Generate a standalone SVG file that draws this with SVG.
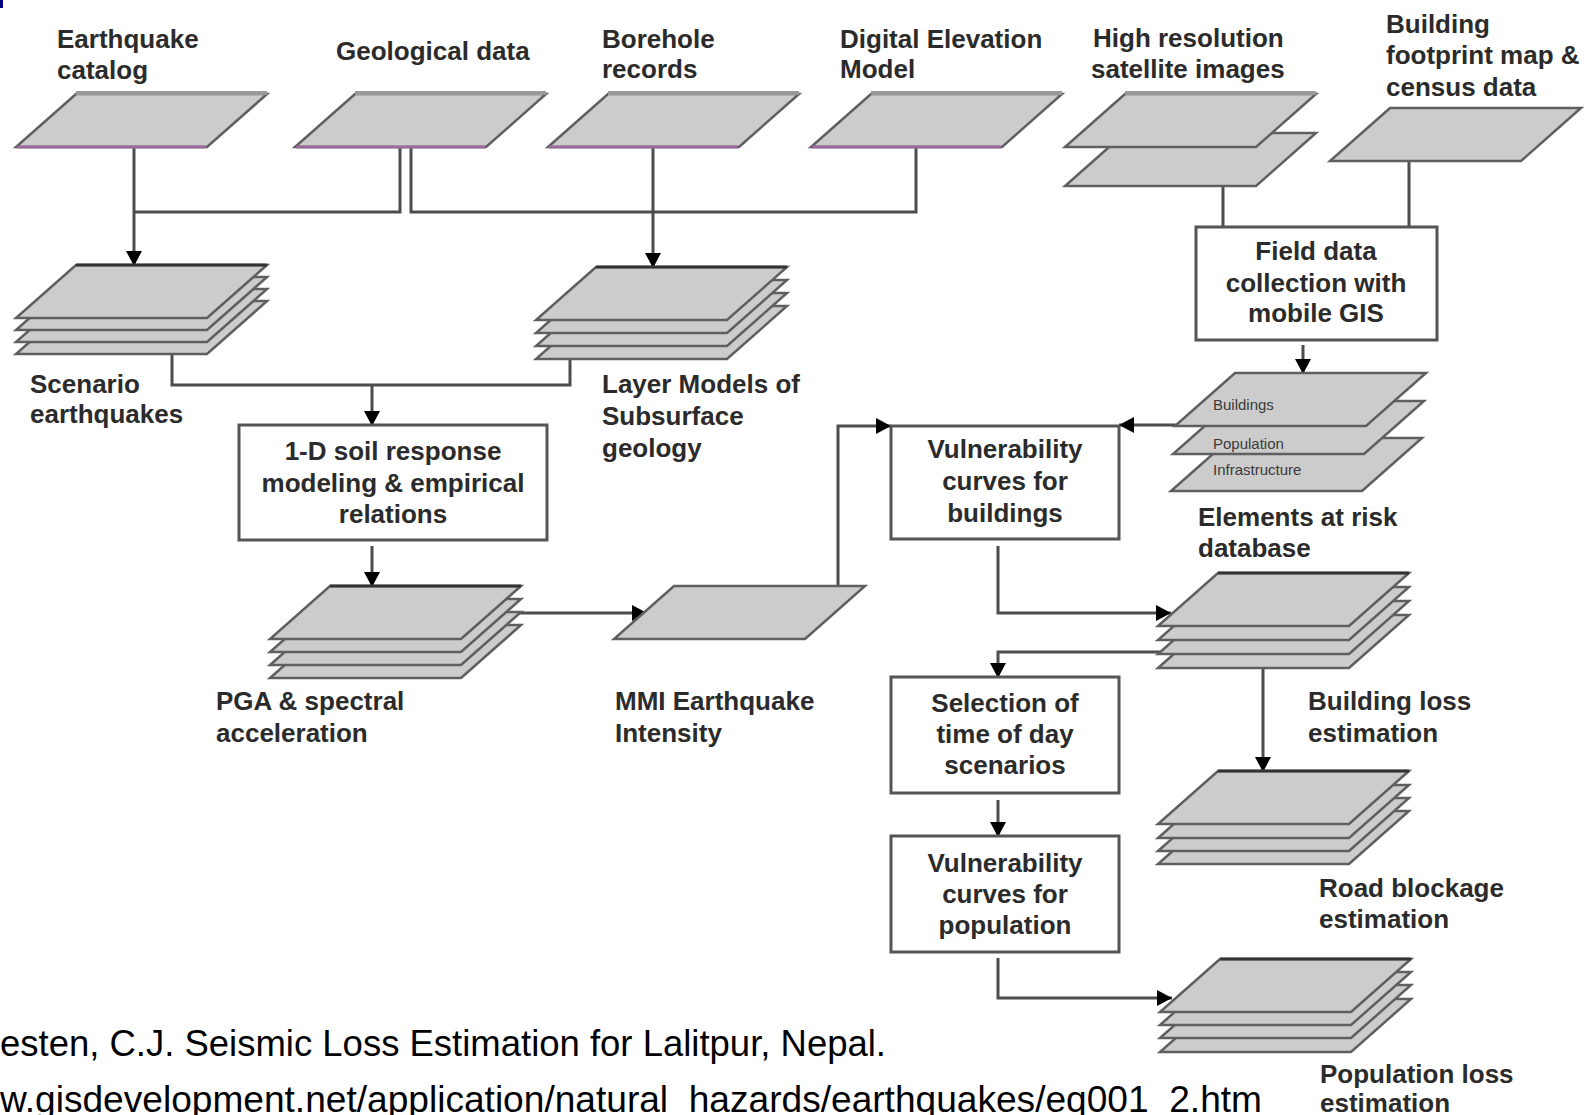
<svg xmlns="http://www.w3.org/2000/svg" xmlns:xlink="http://www.w3.org/1999/xlink" width="1591" height="1115" viewBox="0 0 1591 1115">
<style>
.layer{fill:#cccccc;stroke:#5f5f5f;stroke-width:2.5;stroke-linejoin:miter}
.box{fill:#ffffff;stroke:#555555;stroke-width:3}
.lbl{font-family:"Liberation Sans",Arial,sans-serif;font-weight:bold;font-size:26px;fill:#2b2b2b}
.ctr{text-anchor:middle}
.small{font-family:"Liberation Sans",Arial,sans-serif;font-size:15px;fill:#3a3a3a}
.conn{fill:none;stroke:#4d4d4d;stroke-width:3}
.arr{marker-end:url(#ah)}
.topband{stroke:#999999;stroke-width:4}
.topdark{stroke:#333333;stroke-width:3}
.purple{stroke:#9a6a9a;stroke-width:3}
.cite{font-family:"Liberation Sans",Arial,sans-serif;font-size:36px;fill:#000000}
</style>
<defs>
<path id="pg" d="M60,0 H251 L191,53 H0 Z"/>
<marker id="ah" viewBox="0 0 10 10" refX="10" refY="5" markerUnits="userSpaceOnUse" markerWidth="15" markerHeight="16" preserveAspectRatio="none" orient="auto">
<path d="M0,0 L10,5 L0,10 Z" fill="#000000"/>
</marker>
</defs>
<rect width="1591" height="1115" fill="#ffffff"/>
<rect x="0" y="0" width="3" height="8" fill="#000080"/>

<g id="connectors">
<path class="conn" d="M400,147 V212 H134"/>
<path class="conn arr" d="M134,147 V266"/>
<path class="conn" d="M411,147 V212 H916 V147"/>
<path class="conn arr" d="M653,147 V268"/>
<path class="conn" d="M172,350 V385 H570 V355"/>
<path class="conn arr" d="M372,385 V426"/>
<path class="conn arr" d="M372,546 V587"/>
<path class="conn arr" d="M505,613 H647"/>
<path class="conn arr" d="M838,586 V426 H891"/>
<path class="conn" d="M1223,187 V227"/>
<path class="conn" d="M1409,160 V227"/>
<path class="conn arr" d="M1303,345 V374"/>
<path class="conn arr" d="M1180,425 H1119"/>
<path class="conn arr" d="M998,546 V613 H1171"/>
<path class="conn arr" d="M1165,652 H998 V678"/>
<path class="conn arr" d="M1263,660 V772"/>
<path class="conn arr" d="M998,800 V837"/>
<path class="conn arr" d="M998,958 V998 H1172"/>
</g>

<g id="n-earthquake-catalog">
<use href="#pg" class="layer" x="16" y="94"/>
<line class="topband" x1="76" y1="93" x2="267" y2="93"/>
<line class="purple" x1="17" y1="147" x2="206" y2="147"/>
<text class="lbl" x="57" y="48">Earthquake</text>
<text class="lbl" x="57" y="79">catalog</text>
</g>

<g id="n-geological-data">
<use href="#pg" class="layer" x="295" y="94"/>
<line class="topband" x1="355" y1="93" x2="546" y2="93"/>
<line class="purple" x1="296" y1="147" x2="485" y2="147"/>
<text class="lbl" x="336" y="60">Geological data</text>
</g>

<g id="n-borehole">
<use href="#pg" class="layer" x="548" y="94"/>
<line class="topband" x1="608" y1="93" x2="799" y2="93"/>
<line class="purple" x1="549" y1="147" x2="738" y2="147"/>
<text class="lbl" x="602" y="48">Borehole</text>
<text class="lbl" x="602" y="78">records</text>
</g>

<g id="n-dem">
<use href="#pg" class="layer" x="811" y="94"/>
<line class="topband" x1="871" y1="93" x2="1062" y2="93"/>
<line class="purple" x1="812" y1="147" x2="1001" y2="147"/>
<text class="lbl" x="840" y="48">Digital Elevation</text>
<text class="lbl" x="840" y="78">Model</text>
</g>

<g id="n-satellite">
<use href="#pg" class="layer" x="1065" y="133"/>
<use href="#pg" class="layer" x="1065" y="94"/>
<line class="topband" x1="1125" y1="93" x2="1316" y2="93"/>
<text class="lbl" x="1093" y="47">High resolution</text>
<text class="lbl" x="1091" y="78">satellite images</text>
</g>

<g id="n-building-footprint">
<use href="#pg" class="layer" x="1330" y="108"/>
<text class="lbl" x="1386" y="33">Building</text>
<text class="lbl" x="1386" y="64">footprint map &amp;</text>
<text class="lbl" x="1386" y="96">census data</text>
</g>

<g id="n-scenario-earthquakes">
<use href="#pg" class="layer" x="16" y="301"/>
<use href="#pg" class="layer" x="16" y="289"/>
<use href="#pg" class="layer" x="16" y="277"/>
<use href="#pg" class="layer" x="16" y="265"/>
<line class="topdark" x1="76" y1="265" x2="267" y2="265"/>
<text class="lbl" x="30" y="393">Scenario</text>
<text class="lbl" x="30" y="423">earthquakes</text>
</g>

<g id="n-layer-models">
<use href="#pg" class="layer" x="536" y="306"/>
<use href="#pg" class="layer" x="536" y="293"/>
<use href="#pg" class="layer" x="536" y="280"/>
<use href="#pg" class="layer" x="536" y="267"/>
<line class="topdark" x1="596" y1="267" x2="787" y2="267"/>
<text class="lbl" x="602" y="393">Layer Models of</text>
<text class="lbl" x="602" y="425">Subsurface</text>
<text class="lbl" x="602" y="457">geology</text>
</g>

<g id="n-soil-response">
<rect class="box" x="239" y="425" width="308" height="115"/>
<text class="lbl ctr" x="393" y="460">1-D soil response</text>
<text class="lbl ctr" x="393" y="492">modeling &amp; empirical</text>
<text class="lbl ctr" x="393" y="523">relations</text>
</g>

<g id="n-pga">
<use href="#pg" class="layer" x="270" y="625"/>
<use href="#pg" class="layer" x="270" y="612"/>
<use href="#pg" class="layer" x="270" y="599"/>
<use href="#pg" class="layer" x="270" y="586"/>
<line class="topdark" x1="330" y1="586" x2="521" y2="586"/>
<text class="lbl" x="216" y="710">PGA &amp; spectral</text>
<text class="lbl" x="216" y="742">acceleration</text>
</g>

<g id="n-mmi">
<use href="#pg" class="layer" x="614" y="586"/>
<text class="lbl" x="615" y="710">MMI Earthquake</text>
<text class="lbl" x="615" y="742">Intensity</text>
</g>

<g id="n-field-data">
<rect class="box" x="1196" y="227" width="241" height="113"/>
<text class="lbl ctr" x="1316" y="260">Field data</text>
<text class="lbl ctr" x="1316" y="292">collection with</text>
<text class="lbl ctr" x="1316" y="322">mobile GIS</text>
</g>

<g id="n-elements-at-risk">
<use href="#pg" class="layer" x="1171" y="438"/>
<use href="#pg" class="layer" x="1173" y="401"/>
<use href="#pg" class="layer" x="1175" y="373"/>
<text class="small" x="1213" y="410">Buildings</text>
<text class="small" x="1213" y="449">Population</text>
<text class="small" x="1213" y="475">Infrastructure</text>
<text class="lbl" x="1198" y="526">Elements at risk</text>
<text class="lbl" x="1198" y="557">database</text>
</g>

<g id="n-vuln-buildings">
<rect class="box" x="891" y="426" width="228" height="113"/>
<text class="lbl ctr" x="1005" y="458">Vulnerability</text>
<text class="lbl ctr" x="1005" y="490">curves for</text>
<text class="lbl ctr" x="1005" y="522">buildings</text>
</g>

<g id="n-building-loss">
<use href="#pg" class="layer" x="1158" y="615"/>
<use href="#pg" class="layer" x="1158" y="601"/>
<use href="#pg" class="layer" x="1158" y="587"/>
<use href="#pg" class="layer" x="1158" y="573"/>
<line class="topdark" x1="1218" y1="573" x2="1409" y2="573"/>
<text class="lbl" x="1308" y="710">Building loss</text>
<text class="lbl" x="1308" y="742">estimation</text>
</g>

<g id="n-selection">
<rect class="box" x="891" y="677" width="228" height="116"/>
<text class="lbl ctr" x="1005" y="712">Selection of</text>
<text class="lbl ctr" x="1005" y="743">time of day</text>
<text class="lbl ctr" x="1005" y="774">scenarios</text>
</g>

<g id="n-road-blockage">
<use href="#pg" class="layer" x="1158" y="811"/>
<use href="#pg" class="layer" x="1158" y="798"/>
<use href="#pg" class="layer" x="1158" y="785"/>
<use href="#pg" class="layer" x="1158" y="771"/>
<line class="topdark" x1="1218" y1="771" x2="1409" y2="771"/>
<text class="lbl" x="1319" y="897">Road blockage</text>
<text class="lbl" x="1319" y="928">estimation</text>
</g>

<g id="n-vuln-population">
<rect class="box" x="891" y="836" width="228" height="116"/>
<text class="lbl ctr" x="1005" y="872">Vulnerability</text>
<text class="lbl ctr" x="1005" y="903">curves for</text>
<text class="lbl ctr" x="1005" y="934">population</text>
</g>

<g id="n-population-loss">
<use href="#pg" class="layer" x="1160" y="999"/>
<use href="#pg" class="layer" x="1160" y="985"/>
<use href="#pg" class="layer" x="1160" y="972"/>
<use href="#pg" class="layer" x="1160" y="959"/>
<line class="topdark" x1="1220" y1="959" x2="1411" y2="959"/>
<text class="lbl" x="1320" y="1083">Population loss</text>
<text class="lbl" x="1320" y="1112">estimation</text>
</g>

<g id="citation">
<text class="cite" x="0" y="1056" textLength="886" lengthAdjust="spacingAndGlyphs">esten, C.J. Seismic Loss Estimation for Lalitpur, Nepal.</text>
<text class="cite" x="0" y="1112" textLength="1262" lengthAdjust="spacingAndGlyphs">w.gisdevelopment.net/application/natural_hazards/earthquakes/eq001_2.htm</text>
</g>
</svg>
